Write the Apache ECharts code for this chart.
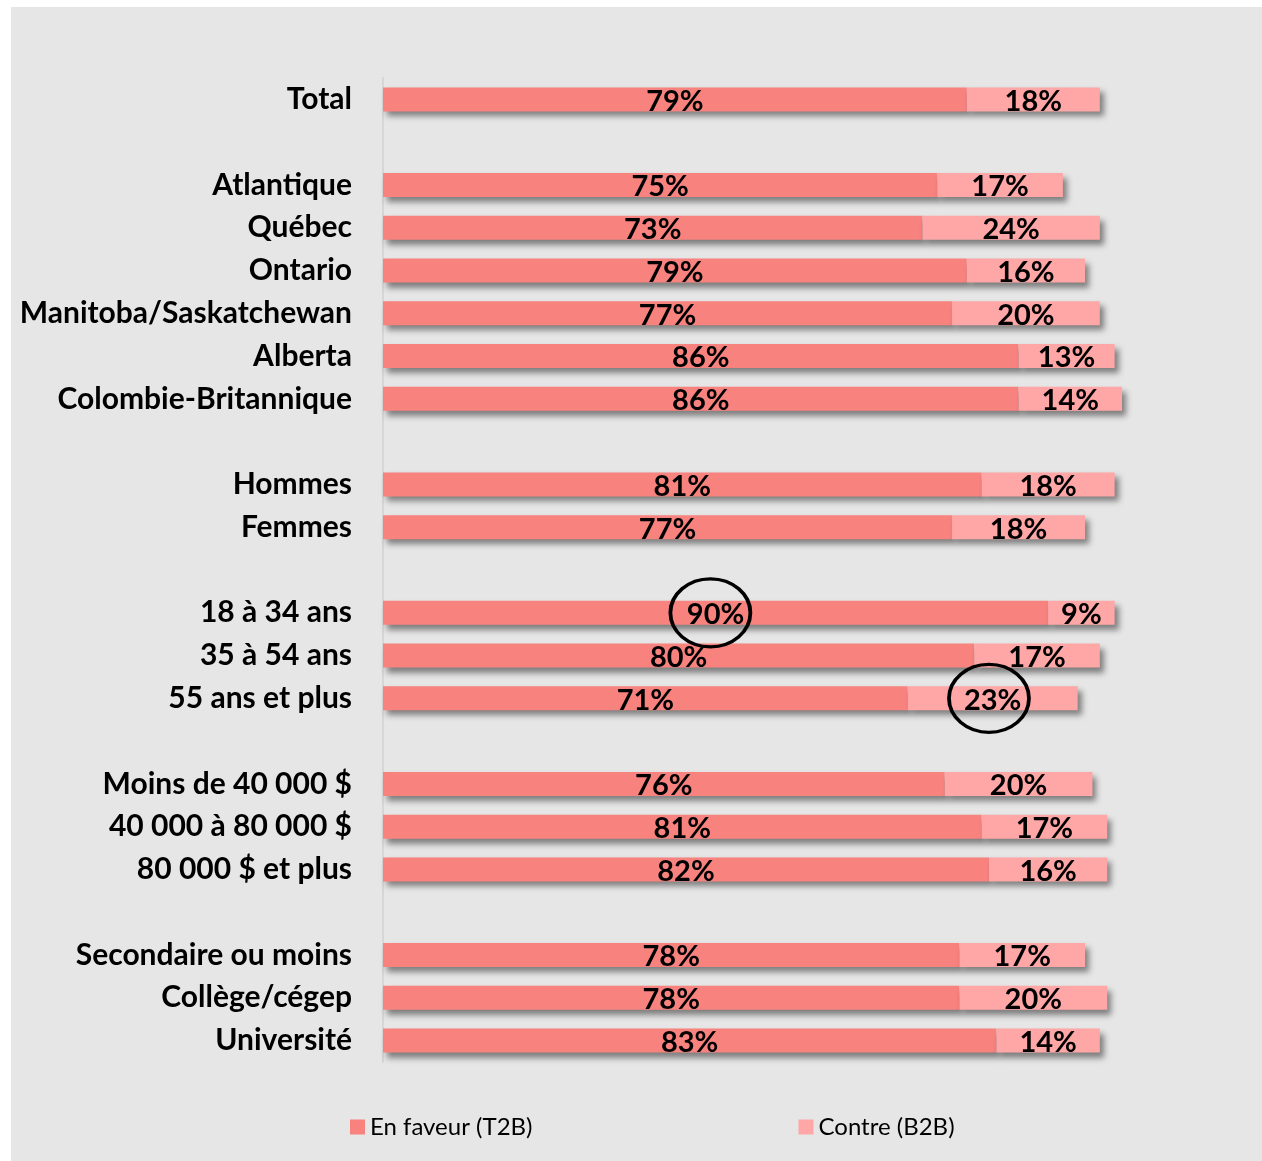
<!DOCTYPE html>
<html>
<head>
<meta charset="utf-8">
<script src="https://cdn.jsdelivr.net/npm/echarts@6/dist/echarts.min.js"></script>
<style>
  html, body { margin: 0; padding: 0; background: #fff; }
  #chart { width: 1262px; height: 1161px; }
</style>
</head>
<body>
<div id="chart"></div>
<script>
// rows, blank strings are the gaps between groups
var categories = ['Total', '', 'Atlantique', 'Québec', 'Ontario', 'Manitoba/Saskatchewan', 'Alberta',
  'Colombie-Britannique', '', 'Hommes', 'Femmes', '', '18 à 34 ans', '35 à 54 ans', '55 ans et plus', '',
  'Moins de 40 000 $', '40 000 à 80 000 $', '80 000 $ et plus', '', 'Secondaire ou moins', 'Collège/cégep', 'Université'];
var enFaveur = [79, null, 75, 73, 79, 77, 86, 86, null, 81, 77, null, 90, 80, 71, null, 76, 81, 82, null, 78, 78, 83];
var contre = [18, null, 17, 24, 16, 20, 13, 14, null, 18, 18, null, 9, 17, 23, null, 20, 17, 16, null, 17, 20, 14];
var seriesNames = ['En faveur (T2B)', 'Contre (B2B)'];
var colors = ['#F8827E', '#FFA6A6'];

var chart = echarts.init(document.getElementById('chart'));

var font = 'Lato, "Open Sans", sans-serif';
var barShadow = {
  shadowColor: 'rgba(0,0,0,0.45)',
  shadowBlur: 6,
  shadowOffsetX: 4,
  shadowOffsetY: 5
};
var valueLabel = {
  show: true,
  position: 'inside',
  color: '#000',
  fontFamily: font,
  fontWeight: 'bold',
  fontSize: 29,
  offset: [0, 2],
  formatter: function (p) { return p.value + '%'; }
};
var ring = {
  symbol: 'circle',
  symbolSize: [80, 68],
  itemStyle: { color: 'rgba(0,0,0,0)', borderColor: '#000', borderWidth: 3.5 },
  label: { show: false }
};

chart.setOption({
  backgroundColor: '#fff',
  animation: false,
  graphic: [{
    type: 'rect',
    z: -10,
    shape: { x: 11, y: 7, width: 1251, height: 1154 },
    style: { fill: '#E6E6E6' }
  }],
  grid: { left: 383, top: 78, width: 739, height: 984 },
  legend: {
    bottom: 17,
    left: 345,
    itemGap: 266,
    itemWidth: 15,
    itemHeight: 15,
    icon: 'rect',
    textStyle: { fontFamily: font, fontSize: 24, color: '#000' },
    data: seriesNames
  },
  xAxis: {
    type: 'value',
    min: 0,
    max: 100,
    show: false
  },
  yAxis: {
    type: 'category',
    inverse: true,
    data: categories,
    axisLine: { show: true, lineStyle: { color: '#D6D6D6', width: 2 } },
    axisTick: { show: false },
    axisLabel: {
      margin: 31,
      color: '#000',
      fontFamily: font,
      fontWeight: 'bold',
      fontSize: 30
    }
  },
  series: [{
    name: seriesNames[0],
    type: 'bar',
    stack: 'tot',
    barWidth: 24,
    data: enFaveur,
    itemStyle: Object.assign({ color: colors[0] }, barShadow),
    label: valueLabel,
    markPoint: Object.assign({ data: [{ coord: [44.3, '18 à 34 ans'] }] }, ring)
  }, {
    name: seriesNames[1],
    type: 'bar',
    stack: 'tot',
    barWidth: 24,
    data: contre,
    itemStyle: Object.assign({ color: colors[1] }, barShadow),
    label: valueLabel,
    markPoint: Object.assign({ data: [{ coord: [82, '55 ans et plus'] }] }, ring)
  }]
});
</script>
</body>
</html>
